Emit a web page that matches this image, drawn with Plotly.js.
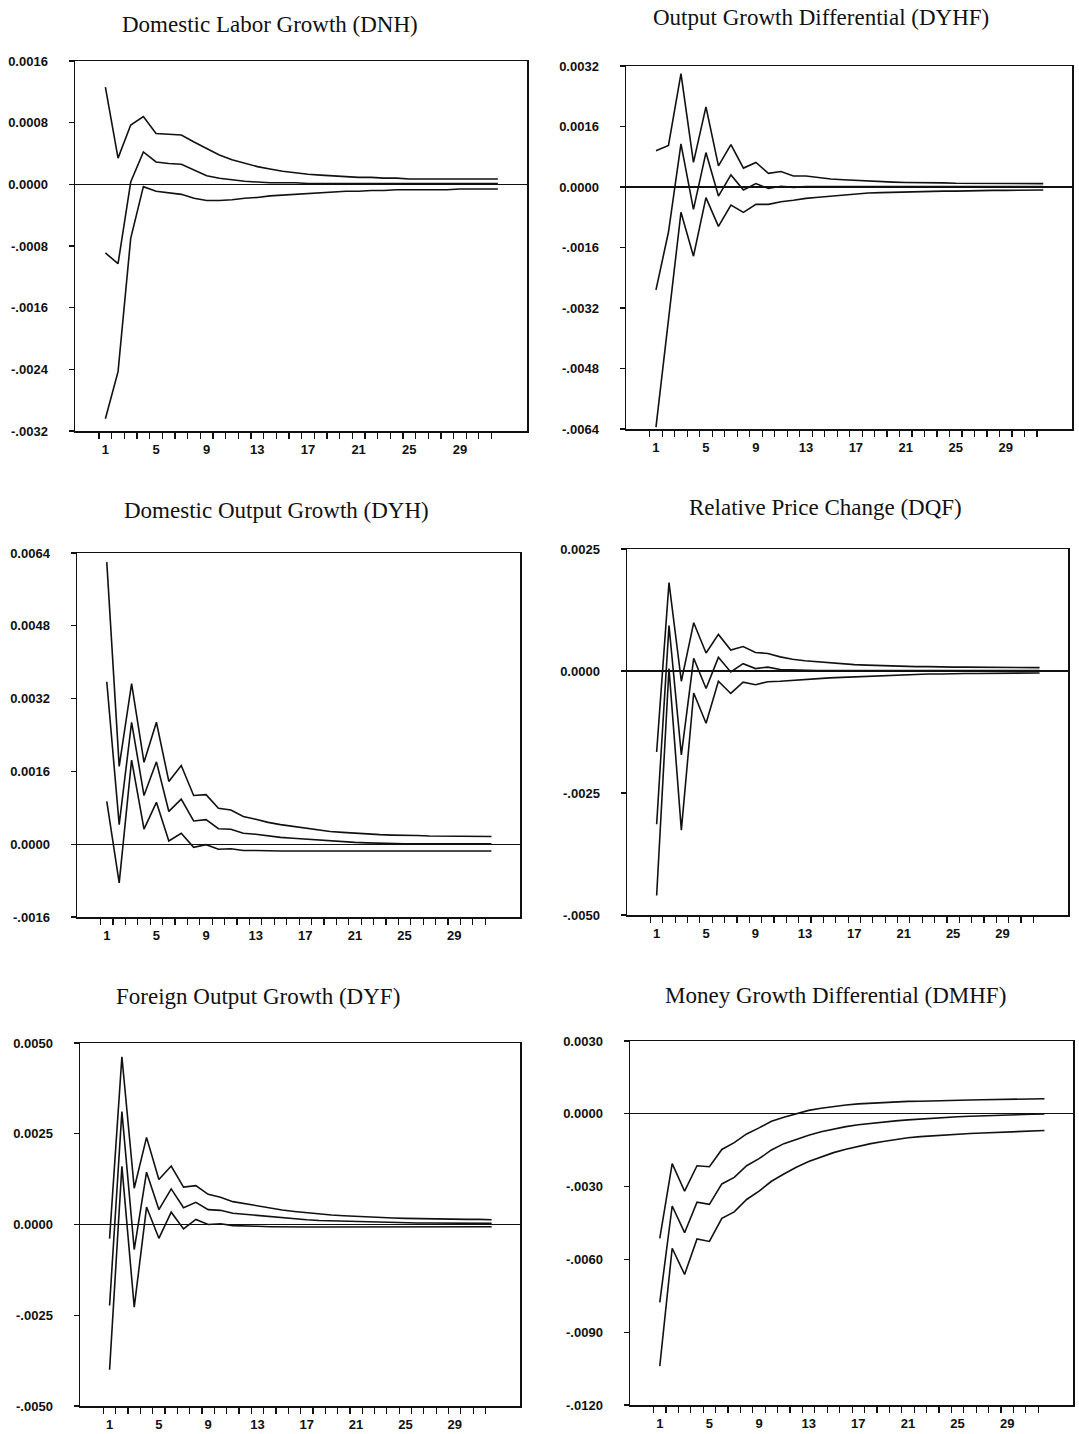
<!DOCTYPE html>
<html><head><meta charset="utf-8">
<script src="https://cdn.plot.ly/plotly-3.0.1.min.js"></script>
<style>html,body{margin:0;padding:0;background:#fff;} #chart{width:1079px;height:1434px;}</style>
</head><body><div id="chart"></div>
<script>
// ---------- data ----------
const periods = [1,2,3,4,5,6,7,8,9,10,11,12,13,14,15,16,17,18,19,20,21,22,23,24,25,26,27,28,29,30,31,32];
const xTickVals = [1,5,9,13,17,21,25,29];
const xTickText = ['1','5','9','13','17','21','25','29'];

// Domestic Labor Growth (DNH)
const dnhUpper = [0.00126,0.00034,0.00077,0.00088,0.00066,0.00065,0.00064,0.00055,0.00046,0.00038,0.00032,0.00027,0.00023,0.00020,0.00017,0.00015,0.00013,0.00012,0.00011,0.00010,0.00009,0.00009,0.00008,0.00008,0.00007,0.00007,0.00007,0.00007,0.00007,0.00007,0.00007,0.00007];
const dnhMid   = [-0.00089,-0.00103,0.00003,0.00042,0.00029,0.00027,0.00026,0.00018,0.00011,0.00008,0.00006,0.00004,0.00003,0.00002,0.00002,0.00002,0.00001,0.00001,0.00001,0.00001,0.00001,0.00001,0.00001,0.00001,0.00001,0.00001,0.00001,0.00001,0.00001,0.00001,0.00001,0.00001];
const dnhLower = [-0.00304,-0.00243,-0.00070,-0.00003,-0.00009,-0.00011,-0.00013,-0.00018,-0.00021,-0.00021,-0.00020,-0.00018,-0.00017,-0.00015,-0.00014,-0.00013,-0.00012,-0.00011,-0.00010,-0.00009,-0.00009,-0.00008,-0.00008,-0.00007,-0.00007,-0.00007,-0.00007,-0.00007,-0.00006,-0.00006,-0.00006,-0.00006];
const dnhTickVals = [0.0016,0.0008,0,-0.0008,-0.0016,-0.0024,-0.0032];
const dnhTickText = ['0.0016','0.0008','0.0000','-.0008','-.0016','-.0024','-.0032'];

// Output Growth Differential (DYHF)
const dyhfUpper = [0.00096,0.00110,0.00300,0.00065,0.00212,0.00056,0.00112,0.00050,0.00065,0.00036,0.00041,0.00029,0.00029,0.00025,0.00021,0.00019,0.00017,0.00015,0.00014,0.00013,0.00012,0.00012,0.00011,0.00011,0.00010,0.00010,0.00010,0.00010,0.00009,0.00009,0.00009,0.00009];
const dyhfMid   = [-0.00272,-0.00119,0.00114,-0.00059,0.00091,-0.00024,0.00032,-0.00008,0.00009,-0.00004,0.00002,-0.00001,0.00001,0.00001,0.00001,0.00001,0.00001,0.00001,0.00001,0.00001,0.00001,0.00001,0.00001,0.00001,0.00001,0.00001,0.00001,0.00001,0.00001,0.00001,0.00001,0.00001];
const dyhfLower = [-0.00635,-0.00350,-0.00067,-0.00183,-0.00028,-0.00104,-0.00048,-0.00067,-0.00046,-0.00046,-0.00039,-0.00035,-0.00030,-0.00027,-0.00024,-0.00021,-0.00018,-0.00016,-0.00015,-0.00014,-0.00013,-0.00013,-0.00012,-0.00011,-0.00011,-0.00010,-0.00010,-0.00009,-0.00009,-0.00008,-0.00008,-0.00008];
const dyhfTickVals = [0.0032,0.0016,0,-0.0016,-0.0032,-0.0048,-0.0064];
const dyhfTickText = ['0.0032','0.0016','0.0000','-.0016','-.0032','-.0048','-.0064'];

// Domestic Output Growth (DYH)
const dyhUpper = [0.00620,0.00171,0.00353,0.00180,0.00268,0.00138,0.00173,0.00107,0.00109,0.00079,0.00075,0.00061,0.00055,0.00048,0.00043,0.00039,0.00035,0.00031,0.00028,0.00026,0.00024,0.00022,0.00021,0.00020,0.00020,0.00019,0.00018,0.00018,0.00018,0.00017,0.00017,0.00017];
const dyhMid   = [0.00357,0.00043,0.00268,0.00107,0.00181,0.00072,0.00099,0.00051,0.00054,0.00034,0.00033,0.00024,0.00022,0.00018,0.00015,0.00013,0.00011,0.00009,0.00007,0.00005,0.00004,0.00003,0.00002,0.00002,0.00001,0.00001,0.00001,0.00001,0.00001,0.00001,0.00001,0.00001];
const dyhLower = [0.00094,-0.00085,0.00185,0.00033,0.00092,0.00007,0.00024,-0.00007,-0.00001,-0.00011,-0.00010,-0.00014,-0.00014,-0.00015,-0.00015,-0.00015,-0.00015,-0.00015,-0.00015,-0.00015,-0.00015,-0.00015,-0.00015,-0.00015,-0.00015,-0.00015,-0.00015,-0.00015,-0.00015,-0.00015,-0.00015,-0.00015];
const dyhTickVals = [0.0064,0.0048,0.0032,0.0016,0,-0.0016];
const dyhTickText = ['0.0064','0.0048','0.0032','0.0016','0.0000','-.0016'];

// Relative Price Change (DQF)
const dqfUpper = [-0.00166,0.00181,-0.00021,0.00099,0.00037,0.00075,0.00043,0.00050,0.00038,0.00036,0.00029,0.00024,0.00021,0.00019,0.00016,0.00014,0.00013,0.00012,0.00011,0.00010,0.00010,0.00009,0.00009,0.00008,0.00008,0.00008,0.00008,0.00007,0.00007,0.00007,0.00007,0.00007];
const dqfMid   = [-0.00314,0.00093,-0.00172,0.00026,-0.00036,0.00028,-0.00002,0.00015,0.00005,0.00008,0.00003,0.00002,0.00001,0.00001,0.00001,0.00001,0.00001,0.00001,0.00001,0.00001,0.00001,0.00001,0.00001,0.00001,0.00001,0.00001,0.00001,0.00001,0.00001,0.00001,0.00001,0.00001];
const dqfLower = [-0.00460,0.00005,-0.00326,-0.00045,-0.00107,-0.00021,-0.00046,-0.00023,-0.00028,-0.00022,-0.00021,-0.00019,-0.00017,-0.00015,-0.00014,-0.00013,-0.00012,-0.00010,-0.00009,-0.00008,-0.00007,-0.00007,-0.00006,-0.00006,-0.00005,-0.00005,-0.00005,-0.00005,-0.00004,-0.00004,-0.00004,-0.00004];
const dqfTickVals = [0.0025,0,-0.0025,-0.0050];
const dqfTickText = ['0.0025','0.0000','-.0025','-.0050'];

// Foreign Output Growth (DYF)
const dyfUpper = [-0.00039,0.00462,0.00100,0.00240,0.00124,0.00161,0.00103,0.00107,0.00083,0.00075,0.00063,0.00057,0.00050,0.00045,0.00040,0.00036,0.00032,0.00029,0.00026,0.00024,0.00022,0.00020,0.00019,0.00018,0.00017,0.00016,0.00015,0.00015,0.00014,0.00014,0.00014,0.00013];
const dyfMid   = [-0.00223,0.00311,-0.00069,0.00144,0.00041,0.00098,0.00046,0.00061,0.00041,0.00039,0.00031,0.00028,0.00023,0.00020,0.00017,0.00015,0.00013,0.00011,0.00010,0.00008,0.00007,0.00006,0.00005,0.00005,0.00004,0.00004,0.00004,0.00004,0.00003,0.00003,0.00003,0.00003];
const dyfLower = [-0.00400,0.00160,-0.00228,0.00048,-0.00038,0.00034,-0.00012,0.00014,0.00000,0.00002,-0.00003,-0.00003,-0.00005,-0.00006,-0.00007,-0.00007,-0.00007,-0.00007,-0.00007,-0.00007,-0.00007,-0.00007,-0.00007,-0.00007,-0.00007,-0.00007,-0.00007,-0.00006,-0.00006,-0.00006,-0.00006,-0.00006];
const dyfTickVals = [0.0050,0.0025,0,-0.0025,-0.0050];
const dyfTickText = ['0.0050','0.0025','0.0000','-.0025','-.0050'];

// Money Growth Differential (DMHF)
const dmhfUpper = [-0.00513,-0.00205,-0.00319,-0.00214,-0.00218,-0.00147,-0.00119,-0.00083,-0.00058,-0.00031,-0.00014,0.00000,0.00014,0.00023,0.00031,0.00036,0.00041,0.00044,0.00047,0.00049,0.00051,0.00052,0.00054,0.00055,0.00056,0.00057,0.00058,0.00059,0.00060,0.00060,0.00061,0.00062];
const dmhfMid   = [-0.00777,-0.00380,-0.00490,-0.00364,-0.00373,-0.00289,-0.00262,-0.00214,-0.00185,-0.00149,-0.00123,-0.00104,-0.00088,-0.00074,-0.00062,-0.00053,-0.00045,-0.00039,-0.00034,-0.00029,-0.00025,-0.00021,-0.00018,-0.00015,-0.00012,-0.00010,-0.00008,-0.00006,-0.00004,-0.00003,-0.00002,-0.00001];
const dmhfLower = [-0.01040,-0.00554,-0.00662,-0.00516,-0.00526,-0.00431,-0.00404,-0.00353,-0.00319,-0.00278,-0.00248,-0.00220,-0.00197,-0.00177,-0.00160,-0.00146,-0.00134,-0.00123,-0.00114,-0.00106,-0.00099,-0.00094,-0.00090,-0.00087,-0.00084,-0.00081,-0.00079,-0.00077,-0.00075,-0.00073,-0.00071,-0.00069];
const dmhfTickVals = [0.0030,0,-0.0030,-0.0060,-0.0090,-0.0120];
const dmhfTickText = ['0.0030','0.0000','-.0030','-.0060','-.0090','-.0120'];

const titles = ['Domestic Labor Growth (DNH)','Output Growth Differential (DYHF)','Domestic Output Growth (DYH)','Relative Price Change (DQF)','Foreign Output Growth (DYF)','Money Growth Differential (DMHF)'];

// ---------- layout (pixel geometry) ----------
const W = 1079, H = 1434;
const panels = [
  {u: dnhUpper,  m: dnhMid,  l: dnhLower,  tv: dnhTickVals,  tt: dnhTickText,  yr: [-0.0032, 0.0016], box: [75, 527, 61, 431],   tpos: [270, 24]},
  {u: dyhfUpper, m: dyhfMid, l: dyhfLower, tv: dyhfTickVals, tt: dyhfTickText, yr: [-0.0064, 0.0032], box: [626, 1072, 66, 429], tpos: [821, 18]},
  {u: dyhUpper,  m: dyhMid,  l: dyhLower,  tv: dyhTickVals,  tt: dyhTickText,  yr: [-0.0016, 0.0064], box: [77, 520, 553, 917],  tpos: [276, 510]},
  {u: dqfUpper,  m: dqfMid,  l: dqfLower,  tv: dqfTickVals,  tt: dqfTickText,  yr: [-0.0050, 0.0025], box: [627, 1068, 549, 915], tpos: [825, 508]},
  {u: dyfUpper,  m: dyfMid,  l: dyfLower,  tv: dyfTickVals,  tt: dyfTickText,  yr: [-0.0050, 0.0050], box: [80, 520, 1043, 1406], tpos: [258, 997]},
  {u: dmhfUpper, m: dmhfMid, l: dmhfLower, tv: dmhfTickVals, tt: dmhfTickText, yr: [-0.0120, 0.0030], box: [630, 1073, 1041, 1405], tpos: [835, 995]}
];

const halfTicks = [];
for (let k = 0; k < 32; k++) halfTicks.push(k + 0.5);

const tickFont = {family: 'Liberation Sans, Arial, sans-serif', size: 13, color: '#111', weight: 'bold'};
const traces = [];
const layout = {
  width: W, height: H,
  margin: {l: 0, r: 0, t: 0, b: 0},
  paper_bgcolor: '#fff', plot_bgcolor: '#fff',
  showlegend: false,
  annotations: []
};

panels.forEach((p, i) => {
  const n = i + 1;
  const xa = n === 1 ? 'x' : 'x' + n;
  const ya = n === 1 ? 'y' : 'y' + n;
  [p.u, p.m, p.l].forEach(series => {
    traces.push({x: periods, y: series, type: 'scatter', mode: 'lines', xaxis: xa, yaxis: ya,
      line: {color: '#111', width: 1.6}, hoverinfo: 'skip'});
  });
  const [x0, x1, y0, y1] = p.box;
  layout['xaxis' + (n === 1 ? '' : n)] = {
    domain: [x0 / W, x1 / W], anchor: ya, range: [-1.4, 34.3],
    showgrid: false, zeroline: false, showline: true, mirror: true, linecolor: '#111', linewidth: 1.5,
    tickmode: 'array', tickvals: xTickVals, ticktext: xTickText, ticks: '',
    ticklabelstandoff: 6,
    minor: {tickmode: 'array', tickvals: halfTicks, ticks: 'outside', ticklen: 6, tickwidth: 1.2, tickcolor: '#111', showgrid: false},
    tickfont: tickFont, fixedrange: true
  };
  layout['yaxis' + (n === 1 ? '' : n)] = {
    domain: [1 - y1 / H, 1 - y0 / H], anchor: xa, range: p.yr,
    showgrid: false, zeroline: true, zerolinecolor: '#111', zerolinewidth: 1.3,
    showline: true, mirror: true, linecolor: '#111', linewidth: 1.5,
    tickmode: 'array', tickvals: p.tv, ticktext: p.tt, ticks: 'outside', ticklen: 5, tickwidth: 1.2, tickcolor: '#111',
    ticklabelstandoff: 18,
    tickfont: tickFont, fixedrange: true
  };
  layout.annotations.push({
    xref: 'paper', yref: 'paper', x: p.tpos[0] / W, y: 1 - p.tpos[1] / H,
    xanchor: 'center', yanchor: 'middle', showarrow: false, text: titles[i],
    font: {family: 'Liberation Serif, Times New Roman, serif', size: 23, color: '#111'}
  });
});

Plotly.newPlot('chart', traces, layout, {staticPlot: true, displayModeBar: false});
</script>
</body></html>
